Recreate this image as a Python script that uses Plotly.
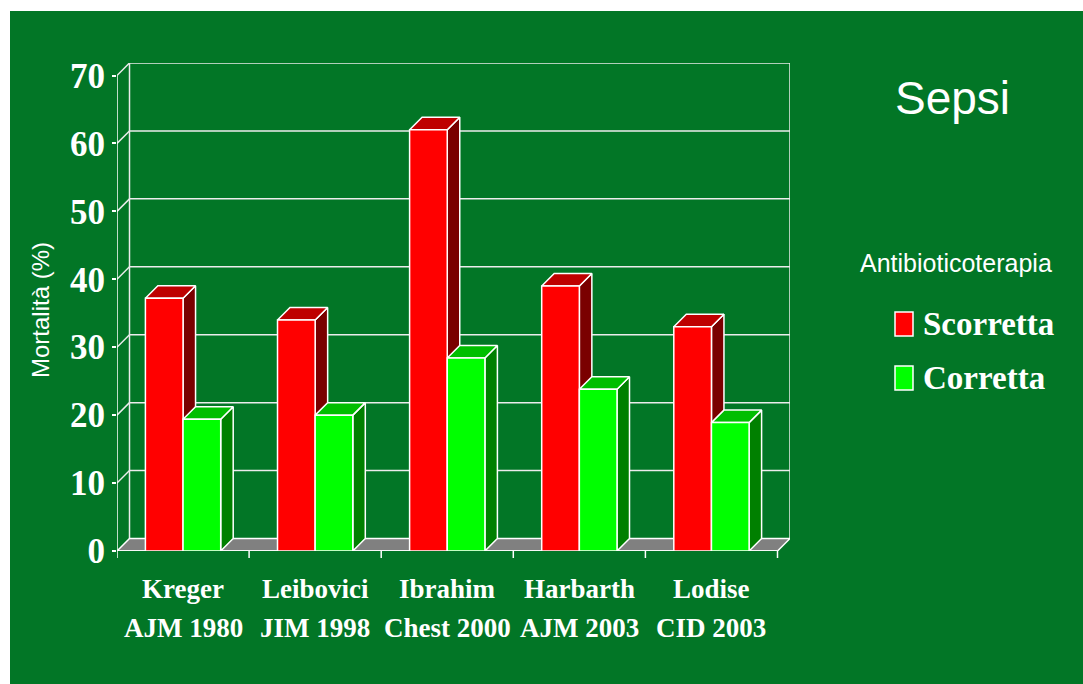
import plotly.graph_objects as go

# ---------------- data ----------------
studies = ["Kreger", "Leibovici", "Ibrahim", "Harbarth", "Lodise"]
journals = ["AJM 1980", "JIM 1998", "Chest 2000", "AJM 2003", "CID 2003"]
scorretta = [37.2, 34, 62, 39, 33]
corretta = [19.4, 20, 28.4, 23.8, 18.9]
series_names = ["Scorretta", "Corretta"]
y_ticks = [0, 10, 20, 30, 40, 50, 60, 70]
title_text = "Sepsi"
legend_title = "Antibioticoterapia"
y_title = "Mortalità (%)"

# ---------------- layout geometry ----------------
W, H = 1083, 684
ML, MR, MT, MB = 117, 293, 63, 133
PW, PH = W - ML - MR, H - MT - MB
DEPTH_PX = 12.5
YMAX = 70
n = len(studies)
DDX = DEPTH_PX * n / (PW - DEPTH_PX)
DDY = DEPTH_PX * YMAX / (PH - DEPTH_PX)
BAR_W = 0.285

BG = "rgb(2,118,38)"
LINE = "#ececec"
SERIF = "Liberation Serif"
SANS = "Liberation Sans"

colors = {
    "Scorretta": ("#FF0000", "#BE0000", "#7A0000"),
    "Corretta": ("#00FF00", "#00BE00", "#008000"),
}


def pxx(px):
    return (px - ML) / PW


def pxy(py):
    return (H - MB - py) / PH


fig = go.Figure()


def poly(xs, ys, fill, lw=1.5, lc="white"):
    fig.add_trace(go.Scatter(
        x=xs + [xs[0]], y=ys + [ys[0]], mode="lines", fill="toself",
        fillcolor=fill, line=dict(color=lc, width=lw),
        hoverinfo="skip", showlegend=False))


def seg(x0, y0, x1, y1, lw=1.5, color=LINE):
    fig.add_trace(go.Scatter(
        x=[x0, x1], y=[y0, y1], mode="lines",
        line=dict(color=color, width=lw), hoverinfo="skip", showlegend=False))


xl, xr = -0.5, n - 0.5

# back wall: gridlines, side verticals
for v in y_ticks[1:]:
    seg(xl + DDX, v + DDY, xr + DDX, v + DDY)
seg(xl + DDX, DDY, xl + DDX, YMAX + DDY)
seg(xr + DDX, DDY, xr + DDX, YMAX + DDY)
# diagonal connectors from front axis to back wall
for v in y_ticks[1:]:
    seg(xl, v, xl + DDX, v + DDY)

# floor
poly([xl, xr, xr + DDX, xl + DDX], [0, 0, DDY, DDY], "#808080")

# front axes
seg(xl, 0, xl, YMAX, color="white")
seg(xl, 0, xr, 0, color="white")

# bars
for i in range(n):
    for k, (name, vals) in enumerate(zip(series_names, [scorretta, corretta])):
        h = vals[i]
        x0 = i - BAR_W + k * BAR_W
        x1 = x0 + BAR_W
        front, top, side = colors[name]
        poly([x1, x1 + DDX, x1 + DDX, x1], [0, DDY, h + DDY, h], side)
        poly([x0, x1, x1 + DDX, x0 + DDX], [h, h, h + DDY, h + DDY], top)
        poly([x0, x1, x1, x0], [0, 0, h, h], front)

shapes = []
# green background panel
shapes.append(dict(type="rect", xref="paper", yref="paper",
                   x0=pxx(10), x1=pxx(W + 5), y0=pxy(H + 5), y1=pxy(11),
                   fillcolor=BG, line=dict(width=0), layer="below"))
# x-axis tick marks (category boundaries)
for j in range(n + 1):
    xb = xl + j
    shapes.append(dict(type="line", xref="x", yref="paper",
                       x0=xb, x1=xb, y0=pxy(H - MB), y1=pxy(H - MB + 7),
                       line=dict(color="white", width=1.5)))

annotations = []
# category labels
for i in range(n):
    annotations.append(dict(x=i, y=pxy(589), xref="x", yref="paper",
                            text=studies[i], showarrow=False,
                            xanchor="center", yanchor="middle",
                            font=dict(family=SERIF, size=27, color="white", weight="bold")))
    annotations.append(dict(x=i, y=pxy(628), xref="x", yref="paper",
                            text=journals[i], showarrow=False,
                            xanchor="center", yanchor="middle",
                            font=dict(family=SERIF, size=27, color="white", weight="bold")))
# y title
annotations.append(dict(x=pxx(40), y=pxy(310), xref="paper", yref="paper",
                        text=y_title, showarrow=False, textangle=-90,
                        xanchor="center", yanchor="middle",
                        font=dict(family=SANS, size=24, color="white")))
# title
annotations.append(dict(x=pxx(952), y=pxy(98), xref="paper", yref="paper",
                        text=title_text, showarrow=False,
                        xanchor="center", yanchor="middle",
                        font=dict(family=SANS, size=46, color="white")))
# legend title
annotations.append(dict(x=pxx(956), y=pxy(263), xref="paper", yref="paper",
                        text=legend_title, showarrow=False,
                        xanchor="center", yanchor="middle",
                        font=dict(family=SANS, size=25, color="white")))
# legend entries
leg_y = [324, 378]
for k, name in enumerate(series_names):
    cy = leg_y[k]
    shapes.append(dict(type="rect", xref="paper", yref="paper",
                       x0=pxx(895), x1=pxx(913), y0=pxy(cy + 12), y1=pxy(cy - 12),
                       fillcolor=colors[name][0], line=dict(color="white", width=1.5)))
    annotations.append(dict(x=pxx(921), y=pxy(cy), xref="paper", yref="paper",
                            text=name, showarrow=False,
                            xanchor="left", yanchor="middle",
                            font=dict(family=SERIF, size=33, color="white", weight="bold")))

fig.update_layout(
    width=W, height=H,
    margin=dict(l=ML, r=MR, t=MT, b=MB, pad=0),
    paper_bgcolor="white",
    plot_bgcolor="rgba(0,0,0,0)",
    showlegend=False,
    shapes=shapes,
    annotations=annotations,
    xaxis=dict(range=[xl, xr + DDX], showgrid=False, zeroline=False,
               showticklabels=False, ticks="", showline=False, fixedrange=True),
    yaxis=dict(range=[0, YMAX + DDY], showgrid=False, zeroline=False,
               tickvals=y_ticks, ticktext=[str(v) for v in y_ticks],
               ticks="outside", ticklen=4, tickcolor="white", tickwidth=1.5,
               ticklabelstandoff=0,
               tickfont=dict(family=SERIF, size=35, color="white", weight="bold"),
               showline=False, fixedrange=True),
)

fig.write_html("out.html")
